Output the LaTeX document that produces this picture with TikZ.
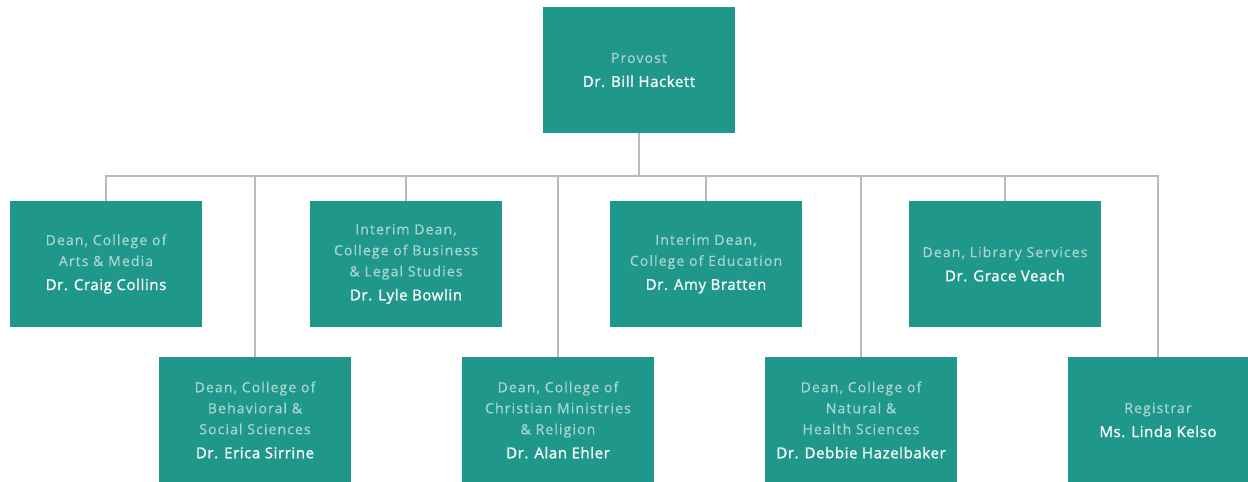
\documentclass[tikz,border=0pt]{standalone}
\usepackage{fontspec}
\setmainfont{Open Sans}
\newfontfamily\titlefont{Open Sans}[LetterSpace=8, FakeBold=0.4]
\newfontfamily\namefont{Open Sans}[LetterSpace=4, FakeBold=1.4]
\usetikzlibrary{calc}

\definecolor{boxteal}{RGB}{31,151,138}
\definecolor{titlegray}{RGB}{172,214,208}
\definecolor{namewhite}{RGB}{246,250,249}
\definecolor{linegray}{RGB}{187,187,187}

\newcommand{\pname}[1]{\\[3pt]{\namefont\fontsize{15}{21}\selectfont\textcolor{namewhite}{#1}}}

\begin{document}
\begin{tikzpicture}[x=1pt,y=-1pt]
\tikzset{UnitStyle/.style = {fill= boxteal, align= center, minimum width= 192pt, minimum height= 126pt,
    inner sep= 0pt, text= titlegray, font= \titlefont\fontsize{14}{21}\selectfont,
    execute at begin node= \rule{0pt}{14.5pt}},
  LinkStyle/.style = {draw= linegray, line width= 2.5pt}
}
    \useasboundingbox (0,0) rectangle (1248,482);

    % Provost on top
    \node[UnitStyle] (provost) at (639,70) {Provost\pname{Dr. Bill Hackett}};

    % first row of deans
    \node[UnitStyle] (arts) at (106,264) {Dean, College of\\Arts \& Media\pname{Dr. Craig Collins}};
    \node[UnitStyle] (business) at (406,264) {Interim Dean,\\College of Business\\\& Legal Studies\pname{Dr. Lyle Bowlin}};
    \node[UnitStyle] (education) at (706,264) {Interim Dean,\\College of Education\pname{Dr. Amy Bratten}};
    \node[UnitStyle] (library) at (1005,264) {Dean, Library Services\pname{Dr. Grace Veach}};

    % second row
    \node[UnitStyle] (behavioral) at (255,420) {Dean, College of\\Behavioral \&\\Social Sciences\pname{Dr. Erica Sirrine}};
    \node[UnitStyle] (ministries) at (558,420) {Dean, College of\\Christian Ministries\\\& Religion\pname{Dr. Alan Ehler}};
    \node[UnitStyle] (natural) at (861,420) {Dean, College of\\Natural \&\\Health Sciences\pname{Dr. Debbie Hazelbaker}};
    \node[UnitStyle, minimum width= 180pt] (registrar) at (1158,420) {Registrar\pname{Ms. Linda Kelso}};

    % bus line
    \coordinate (bus) at (639,176);
    \draw[LinkStyle] (provost.south) -- (provost.south |- bus);
    \draw[LinkStyle, line cap= rect] (arts.north |- bus) -- (registrar.north |- bus);
    \foreach \unit in {arts, business, education, library, behavioral, ministries, natural, registrar}
        \draw[LinkStyle] (\unit.north) -- (\unit.north |- bus);
\end{tikzpicture}
\end{document}
